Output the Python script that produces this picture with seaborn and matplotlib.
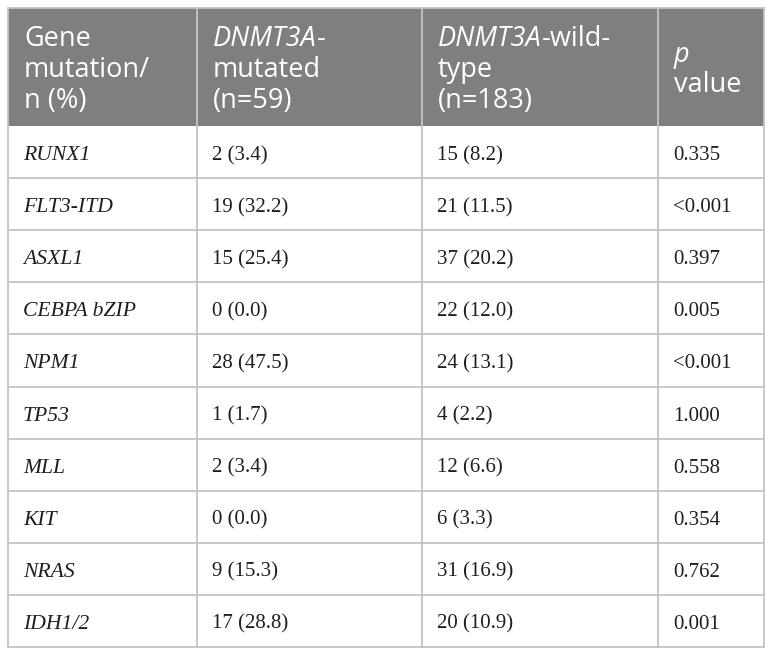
import matplotlib
matplotlib.use("Agg")
import matplotlib.pyplot as plt
import seaborn as sns
from matplotlib.patches import Rectangle

# ---- data ----
genes = ["RUNX1", "FLT3-ITD", "ASXL1", "CEBPA bZIP", "NPM1", "TP53", "MLL", "KIT", "NRAS", "IDH1/2"]
mutated = ["2 (3.4)", "19 (32.2)", "15 (25.4)", "0 (0.0)", "28 (47.5)", "1 (1.7)", "2 (3.4)", "0 (0.0)", "9 (15.3)", "17 (28.8)"]
wildtype = ["15 (8.2)", "21 (11.5)", "37 (20.2)", "22 (12.0)", "24 (13.1)", "4 (2.2)", "12 (6.6)", "6 (3.3)", "31 (16.9)", "20 (10.9)"]
pvalues = ["0.335", "<0.001", "0.397", "0.005", "<0.001", "1.000", "0.558", "0.354", "0.762", "0.001"]

# header: list of lines, each line list of (text, italic)
headers = [
    [[("Gene", False)], [("mutation/", False)], [("n (%)", False)]],
    [[("DNMT3A", True), ("-", False)], [("mutated", False)], [("(n=59)", False)]],
    [[("DNMT3A", True), ("-wild-", False)], [("type", False)], [("(n=183)", False)]],
    [[("p", True)], [("value", False)]],
]

sns.set_theme(style="white")
plt.rcParams["font.family"] = ["DejaVu Sans"]

W, H = 772, 655
fig = plt.figure(figsize=(W / 100, H / 100), dpi=100)
ax = fig.add_axes([0, 0, 1, 1])
ax.set_xlim(0, W)
ax.set_ylim(H, 0)
ax.axis("off")

col_edges = [8, 197, 422, 658, 764]
top, head_bot, bottom = 8, 126, 647
nrows = len(genes)
row_h = (bottom - head_bot) / nrows

header_color = "#7f7f7f"
line_color = "#c4c4c4"

ax.add_patch(Rectangle((col_edges[0], top), col_edges[-1] - col_edges[0], head_bot - top,
                       facecolor=header_color, edgecolor="none", zorder=1))

renderer = fig.canvas.get_renderer()

def draw_runs(x, y, runs, family, size, color):
    cx = x
    for txt, it in runs:
        t = ax.text(cx, y, txt, fontfamily=family, fontsize=size, color=color,
                    fontstyle="italic" if it else "normal", va="baseline", ha="left", zorder=3)
        bb = t.get_window_extent(renderer=renderer)
        cx += bb.width  # 1 data unit = 1 px

# header text
hcenter_base = (top + head_bot) / 2 + 10
hspace = 30.5
for ci, lines in enumerate(headers):
    n = len(lines)
    for k, runs in enumerate(lines):
        yb = hcenter_base + (k - (n - 1) / 2) * hspace
        draw_runs(col_edges[ci] + 16, yb, runs, "Open Sans", 19.5, "white")

# body text
for r in range(nrows):
    yc = head_bot + (r + 0.5) * row_h
    yb = yc + 8
    cells = [[(genes[r], True)], [(mutated[r], False)], [(wildtype[r], False)], [(pvalues[r], False)]]
    for ci, runs in enumerate(cells):
        size = 15.6 if ci == 0 else 15
        draw_runs(col_edges[ci] + 15, yb, runs, "Liberation Serif", size, "#1e1e1e")

# grid lines
for r in range(1, nrows):
    y = head_bot + r * row_h
    ax.plot([col_edges[0], col_edges[-1]], [y, y], color=line_color, lw=1.3, zorder=2)
ax.plot([col_edges[0], col_edges[-1]], [bottom, bottom], color=line_color, lw=1.3, zorder=2)
ax.plot([col_edges[0], col_edges[-1]], [top, top], color=line_color, lw=1.3, zorder=2)
for x in col_edges:
    ax.plot([x, x], [top, bottom], color=line_color, lw=1.3, zorder=2)

fig.savefig("out.png", dpi=100, facecolor="white")
